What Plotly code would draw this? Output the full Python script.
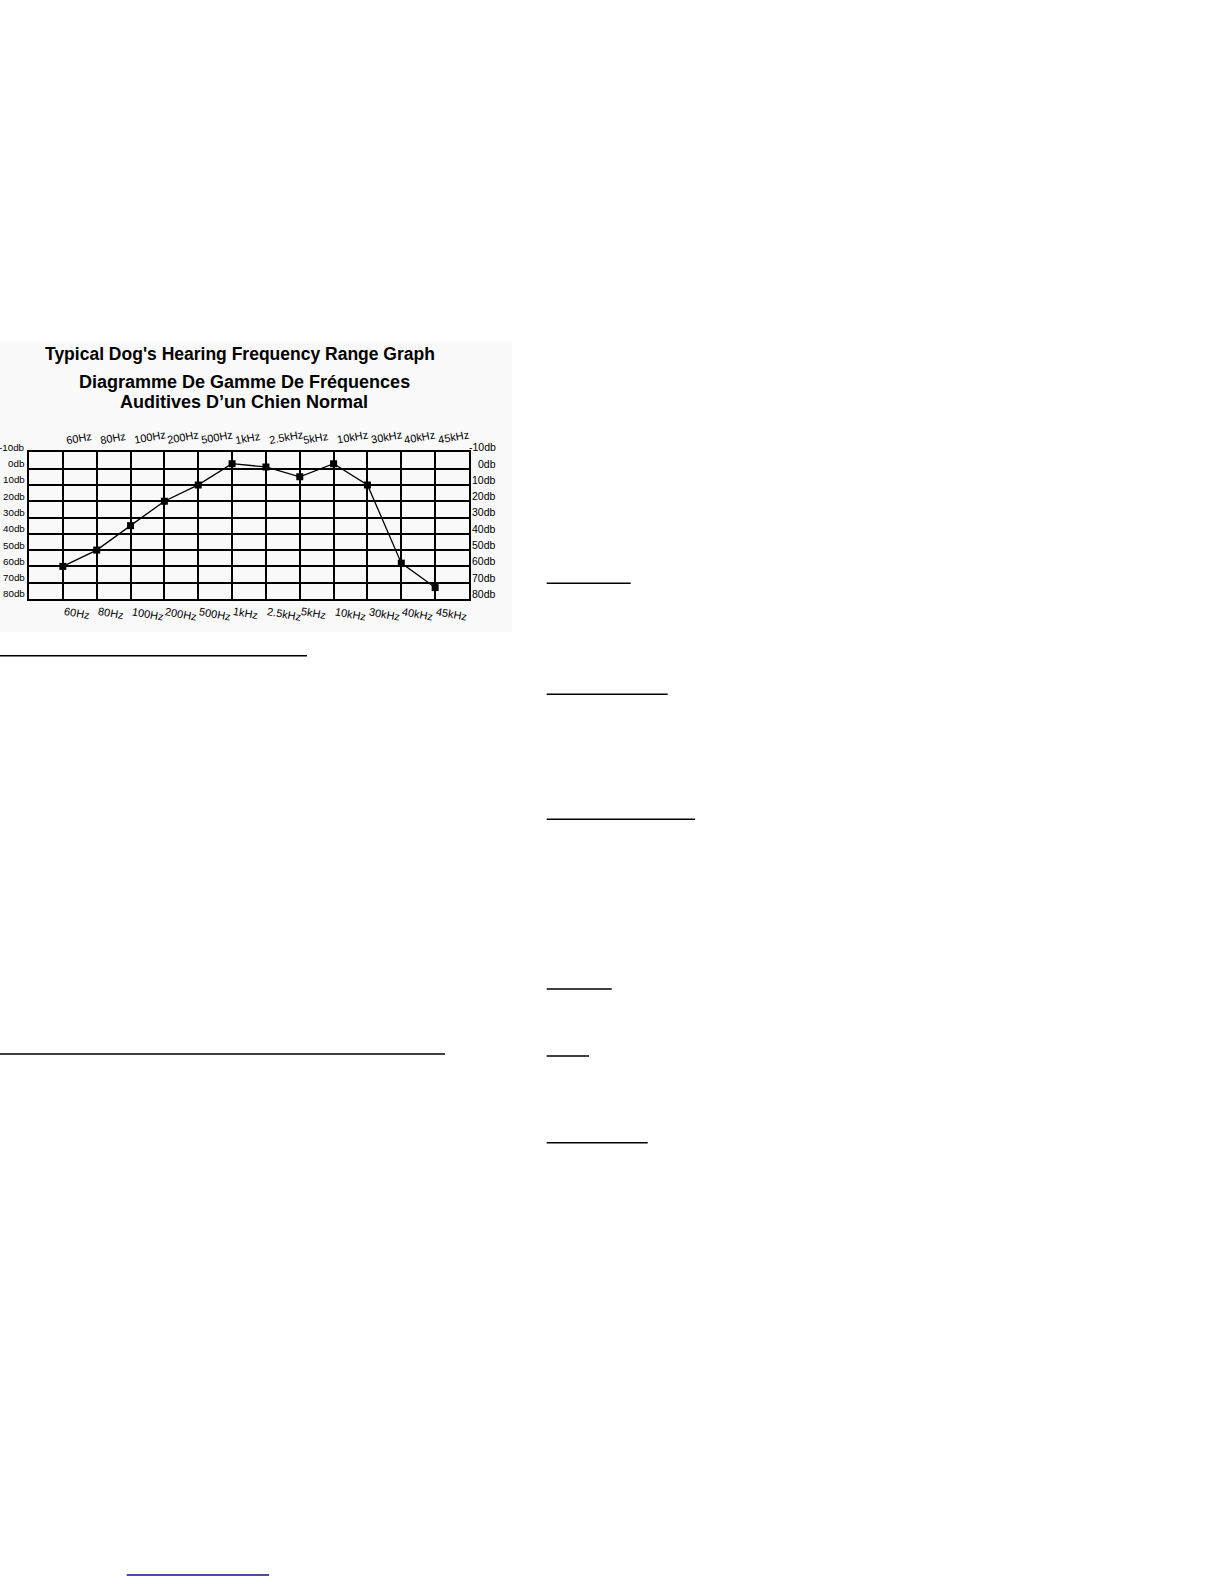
import plotly.graph_objects as go

# datos del grafico
frecuencias = ['60Hz', '80Hz', '100Hz', '200Hz', '500Hz', '1kHz',
               '2.5kHz', '5kHz', '10kHz', '30kHz', '40kHz', '45kHz']
decibeles = [60, 50, 35, 20, 10, -3, -1, 5, -3, 10, 58, 73]
niveles_db = [-10, 0, 10, 20, 30, 40, 50, 60, 70, 80]
etiquetas_db = ['-10db', '0db', '10db', '20db', '30db', '40db', '50db', '60db', '70db', '80db']

titulo_en = "Typical Dog's Hearing Frequency Range Graph"
titulo_fr_1 = 'Diagramme De Gamme De Fréquences'
titulo_fr_2 = 'Auditives D\u2019un Chien Normal'

W, H = 1224, 1584
FUENTE = 'Liberation Sans, Arial, sans-serif'


def px_x(v):
    return v / W


def px_y(v):
    return 1 - v / H


fig = go.Figure()
fig.add_trace(go.Scatter(
    x=frecuencias, y=decibeles, mode='lines+markers',
    line=dict(color='black', width=1.3),
    marker=dict(symbol='square', size=7, color='black'),
    showlegend=False, hoverinfo='x+y'
))

anotaciones = []
# titulos
anotaciones.append(dict(text='<b>' + titulo_en + '</b>', x=px_x(240), y=px_y(354),
                        xref='paper', yref='paper', xanchor='center', yanchor='middle',
                        showarrow=False, font=dict(size=17.5, color='black', family=FUENTE)))
anotaciones.append(dict(text='<b>' + titulo_fr_1 + '</b>', x=px_x(244), y=px_y(382),
                        xref='paper', yref='paper', xanchor='center', yanchor='middle',
                        showarrow=False, font=dict(size=18, color='black', family=FUENTE)))
anotaciones.append(dict(text='<b>' + titulo_fr_2 + '</b>', x=px_x(244), y=px_y(402),
                        xref='paper', yref='paper', xanchor='center', yanchor='middle',
                        showarrow=False, font=dict(size=18, color='black', family=FUENTE)))

# etiquetas de db a ambos lados
for nivel, txt in zip(niveles_db, etiquetas_db):
    anotaciones.append(dict(text=txt, x=px_x(26.5), y=nivel, xref='paper', yref='y',
                            xanchor='right', yanchor='middle', yshift=5, showarrow=False,
                            font=dict(size=9.8, color='black', family=FUENTE)))
    anotaciones.append(dict(text=txt, x=px_x(498), y=nivel, xref='paper', yref='y',
                            xanchor='right', yanchor='middle', yshift=5, showarrow=False,
                            font=dict(size=10.5, color='black', family=FUENTE)))

# etiquetas de frecuencia arriba y abajo (inclinadas)
for f in frecuencias:
    anotaciones.append(dict(text=f, x=f, y=-10, xref='x', yref='y',
                            xanchor='left', yanchor='bottom', yshift=4, xshift=0,
                            textangle=-10, showarrow=False,
                            font=dict(size=11, color='black', family=FUENTE)))
    anotaciones.append(dict(text=f, x=f, y=80, xref='x', yref='y',
                            xanchor='left', yanchor='top', yshift=-4, xshift=-2,
                            textangle=10, showarrow=False,
                            font=dict(size=11, color='black', family=FUENTE)))

# fondo del grafico y lineas subrayadas de la pagina
formas = [dict(type='rect', xref='paper', yref='paper', x0=0, x1=px_x(512),
               y0=px_y(632), y1=px_y(341), fillcolor='#f9f9f9', line=dict(width=0), layer='below')]

subrayados = [
    (0, 307, 655.7, 'black'),
    (0, 445, 1054, 'black'),
    (546.7, 630.7, 583.3, 'black'),
    (546.7, 667.7, 694.3, 'black'),
    (546.7, 695, 819.3, 'black'),
    (546.7, 611.7, 989, 'black'),
    (546.7, 589, 1056, 'black'),
    (546.7, 647.7, 1142.7, 'black'),
    (126.7, 269, 1575, '#14147f'),
]
for x0, x1, yy, col in subrayados:
    formas.append(dict(type='line', xref='paper', yref='paper', x0=px_x(x0), x1=px_x(x1),
                       y0=px_y(yy), y1=px_y(yy), line=dict(color=col, width=1.6)))

fig.update_layout(
    width=W, height=H,
    margin=dict(l=0, r=0, t=0, b=0),
    paper_bgcolor='white',
    plot_bgcolor='white',
    annotations=anotaciones,
    shapes=formas,
    xaxis=dict(domain=[px_x(29), px_x(469)], type='category', range=[-1, 12],
               showgrid=True, gridcolor='black', gridwidth=1.5,
               showline=True, linecolor='black', linewidth=1.5, mirror=True,
               showticklabels=False, ticks='', zeroline=False, fixedrange=True),
    yaxis=dict(domain=[px_y(599), px_y(452.3)], range=[80, -10],
               tickvals=niveles_db, showgrid=True, gridcolor='black', gridwidth=1.5,
               showline=True, linecolor='black', linewidth=1.5, mirror=True,
               showticklabels=False, ticks='', zeroline=False, fixedrange=True),
)

# quitar el margen por defecto del body para que la figura empiece en (0, 0)
fig.write_html("out.html", config={'displayModeBar': False},
               post_script="document.body.style.margin='0px';")
